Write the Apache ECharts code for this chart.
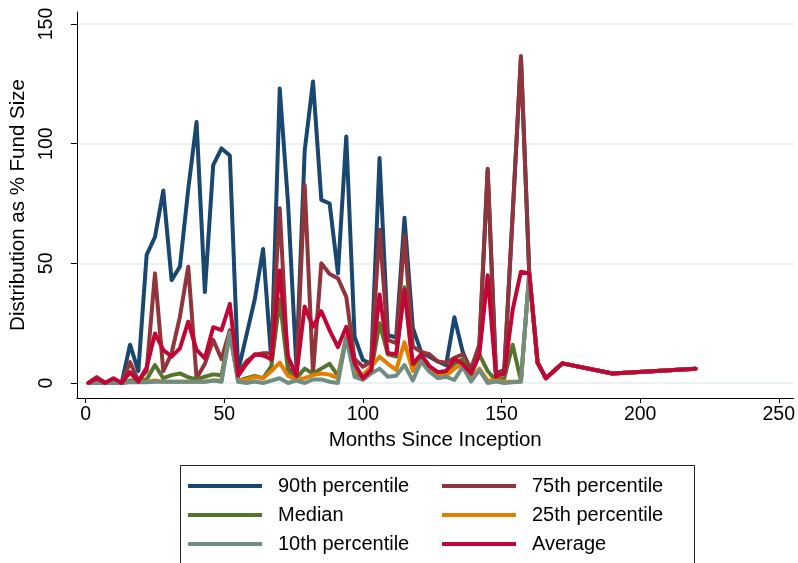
<!DOCTYPE html>
<html><head><meta charset="utf-8">
<script src="https://cdn.jsdelivr.net/npm/echarts@6/dist/echarts.min.js"></script>
<style>html,body{margin:0;padding:0;background:#fff}#c{width:798px;height:563px}</style>
</head><body><div id="c"></div>
<script>
// Months since inception (x values shared by all series)
const months = [1,4,7,10,13,16,19,22,25,28,31,34,37,40,43,46,49,52,55,58,61,64,67,70,73,76,79,82,85,88,91,94,97,100,103,106,109,112,115,118,121,124,127,130,133,136,139,142,145,148,151,154,157,160,163,166,172,190,220];
const xTicks = [0,50,100,150,200,250];
const yTicks = [0,50,100,150];

const p90 = [0,2,0,1.5,0,16,5,53.5,61,80.4,43,48.6,81,109,38,91,98,95, 5,20,35,56,9,123,75,7,97,126,76.5,75,45.8,103, 19.4,9.6,8,94,20,19,69,23,13,11,9,7.5,27.5,13,5,15,89,4,5.4,70,136,45.8, 8.5,2,8.2,4,6];
const p75 = [0,2.5,0,1.5,0,8.7,1,5,45.8,5,12.4,27.7,48.6,2,8,18,10,22, 4,9,11.7,12.4,12.4,73,6,3,82.7,4,50,45.5,43.7,36, 10,6.8,9,64,18,16.6,61.4,15.2,13,12,9,8.5,10.5,12,6,16,89.5,4,5.4,70,136.6,45.8, 8.5,2,8.2,4,6];
const median = [0,0.5,0,0.5,0,1,1,1.5,7.5,2,3.3,4,2.4,1.5,2.6,3.6,3.2,21, 1,2,3,2,7,35,5,2,6,4,6,8,3,19, 4,2,5,25,12,11,40,6,10,5,3.3,4.7,8,10,3,12,5,1,2,16,1,45.8, 8.5,2,8.2,4,6];
const p25 = [0,0,0,0,0,0.5,0.5,0.5,1,0.5,0.5,0.5,0.5,0.5,0.5,1,1,21, 1,1.5,2.5,2,5,8.5,3,1.5,2,3.3,4,3.5,2,19, 5,3.3,6.8,11,8,5.5,17,5,9,5,3,3,6,8,1,6,1,1,0.5,0.5,0.5,45.8, 8.5,2,8.2,4,6];
const p10 = [0,0,0,0,0,0.3,0.3,0.3,0.5,0.5,0.5,0.5,0.5,0.5,0.5,1,0.5,21, 0.5,0,0.6,0,1,2,0,1,0,1.5,1.5,0.5,0,19, 2.6,1.3,4,6,2.6,3,7.5,1,9,4.7,2,2.6,1.3,6.8,0.6,5.4,0,0.6,0,0.3,0.6,45.8, 8.5,2,8.2,4,6];
const average = [0,2,0,2,0,4.5,0.5,6.5,20.7,13.8,11,14.5,25.6,13.8,10.3,23.3,22.1,33, 3,8,12,11.5,10,47,11,3,32,23.5,30,22,15,23.5, 8.2,2,5.4,37,12.4,12,39,8,12,7,4.5,5,10,8,4,12,45,2.6,4,30.5,46.5,45.8, 8.5,2,8.2,4,6];

const seriesNames = ['90th percentile','75th percentile','Median','25th percentile','10th percentile','Average'];
const seriesValues = [p90,p75,median,p25,p10,average];
const colors = ['#1a476f','#90353b','#55752f','#e37e00','#6e8e84','#c10534'];
// legend grid: column / row of each entry
const legendCol = [0,1,0,1,0,1];
const legendRow = [0,0,1,1,2,2];

const FONT = "'Liberation Sans', Arial, sans-serif";
const chart = echarts.init(document.getElementById('c'), null, {renderer:'canvas'});

const series = seriesNames.map((name,i)=>({
  name: name,
  type: 'line',
  data: months.map((m,j)=>[m, seriesValues[i][j]]),
  showSymbol: false,
  symbol: 'none',
  clip: false,
  color: colors[i],
  lineStyle: {color: colors[i], width: 4, join: 'round', cap: 'round'},
  z: 2 + i
}));

const legends = seriesNames.map((name,i)=>({
  orient: 'horizontal',
  icon: 'rect',
  itemWidth: 74,
  itemHeight: 4,
  padding: 0,
  left: [188, 442][legendCol[i]],
  top: 475 + 29 * legendRow[i],
  textStyle: {fontSize: 20, color: '#000', fontFamily: FONT, lineHeight: 22, padding: [0,0,0,11]},
  selectedMode: false,
  data: [name]
}));

chart.setOption({
  animation: false,
  backgroundColor: '#fff',
  color: colors,
  grid: {left: 75, right: 3, top: 12, bottom: 165, containLabel: false},
  xAxis: {
    type: 'value', min: -3.16, max: 255.3,
    name: 'Months Since Inception', nameLocation: 'middle', nameGap: 31,
    nameTextStyle: {fontSize: 20.5, color: '#000', fontFamily: FONT},
    axisLine: {show: true, onZero: false, lineStyle: {color: '#000', width: 1}},
    axisTick: {show: true, customValues: xTicks, length: 5, lineStyle: {color: '#000', width: 1}},
    axisLabel: {customValues: xTicks, fontSize: 19.5, color: '#000', fontFamily: FONT, margin: 7},
    splitLine: {show: false}
  },
  yAxis: {
    type: 'value', min: -6.27, max: 155,
    name: 'Distribution as % Fund Size', nameLocation: 'middle', nameRotate: 90, nameGap: 45,
    nameTextStyle: {fontSize: 20.5, color: '#000', fontFamily: FONT},
    axisLine: {show: true, onZero: false, lineStyle: {color: '#000', width: 1}},
    axisTick: {show: true, customValues: yTicks, length: 6, lineStyle: {color: '#000', width: 1}},
    axisLabel: {customValues: yTicks, rotate: 90, fontSize: 19.5, color: '#000', fontFamily: FONT, margin: 20},
    splitLine: {show: true, lineStyle: {color: '#eaf2f3', width: 2}}
  },
  legend: legends,
  graphic: [{
    type: 'rect', left: 178, top: 463, silent: true,
    shape: {width: 514, height: 99},
    style: {fill: 'none', stroke: '#222', lineWidth: 1}
  }],
  series: series
});
</script></body></html>
